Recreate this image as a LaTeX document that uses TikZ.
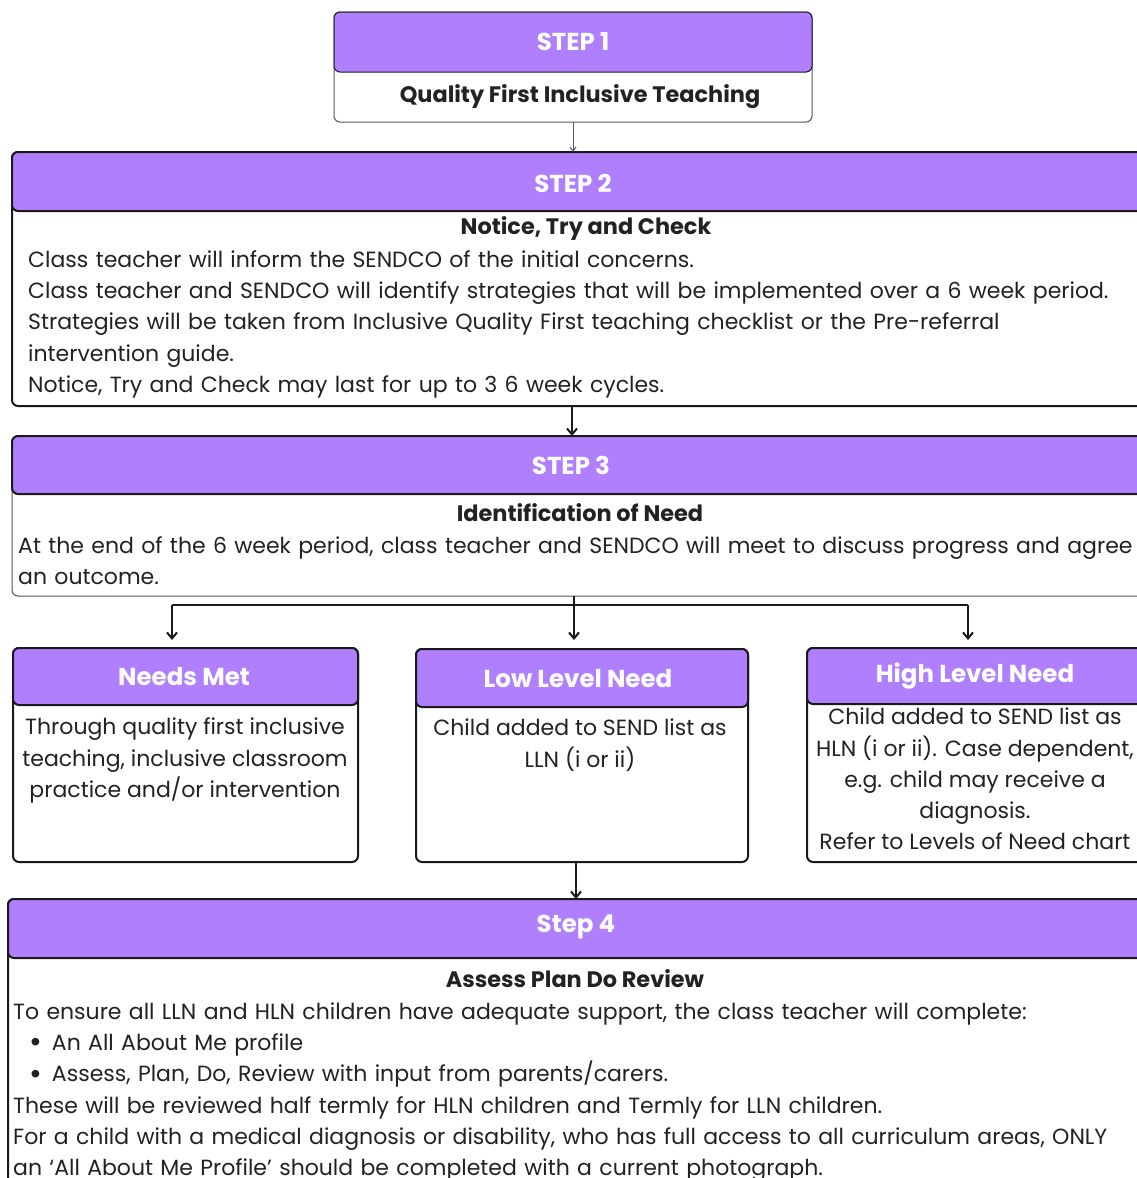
\documentclass[tikz,border=0pt]{standalone}
\usepackage{fontspec}
\setmainfont{Poppins}
\usetikzlibrary{arrows.meta}
\definecolor{purp}{HTML}{B07FFE}
\definecolor{ink}{HTML}{222222}
\definecolor{edge}{HTML}{1A1A1A}
\definecolor{thin}{HTML}{555555}
\newcommand{\bigbul}{\hspace*{16pt}\raisebox{-2.5pt}{\fontsize{31}{31}\selectfont\textbullet}\hspace{10pt}}
\begin{document}
\begin{tikzpicture}[x=1pt,y=-1pt,
  frame/.style={draw=edge, line width=2pt, fill=white, rounded corners=6pt, inner sep=0pt, outer sep=0pt, anchor=north west},
  hdr/.style={draw=edge, line width=2pt, fill=purp, rounded corners=6pt, inner sep=0pt, outer sep=0pt, anchor=north west},
  ttl/.style={text=white, inner sep=0pt, font=\fontsize{24.5}{28}\selectfont\bfseries},
  subttl/.style={text=ink, inner sep=0pt, font=\fontsize{22.4}{27}\selectfont\bfseries},
  bodyl/.style={text=ink, inner sep=0pt, anchor=north west, align=left, text width=1120pt, font=\fontsize{22}{31.3}\selectfont},
  bodyc/.style={text=ink, inner sep=0pt, anchor=north, align=center, font=\fontsize{22}{31.1}\selectfont},
  arr/.style={draw=edge, line width=2pt, -{Straight Barb[length=6pt,width=10pt,line width=2pt]}},
  thinarr/.style={draw=thin, line width=1pt, -{Straight Barb[length=4pt,width=6pt]}}
]
\useasboundingbox (0,0) rectangle (1137,1178);
\clip (0,0) rectangle (1137,1178);
\fill[white] (0,0) rectangle (1137,1178);

% STEP 1
\node[frame, draw=thin, line width=1pt, minimum width=478pt, minimum height=110pt] (s1) at (334,12) {};
\node[hdr, line width=1pt, minimum width=478pt, minimum height=60pt] (s1h) at (334,12) {};
\node[ttl] (s1t) at (573,42) {STEP 1};
\node[subttl] (s1b) at (580,97) {Quality First Inclusive Teaching};

% STEP 2
\node[frame, minimum width=1140pt, minimum height=254pt] (s2) at (12,152) {};
\node[hdr, minimum width=1140pt, minimum height=59pt] (s2h) at (12,152) {};
\node[ttl] (s2t) at (573,183) {STEP 2};
\node[subttl] (s2a) at (586,228) {Notice, Try and Check};
\node[bodyl] (s2c) at (28,245) {\strut Class teacher will inform the SENDCO of the initial concerns.\\
Class teacher and SENDCO will identify strategies that will be implemented over a 6 week period.\\
Strategies will be taken from Inclusive Quality First teaching checklist or the Pre-referral\\
intervention guide.\\
Notice, Try and Check may last for up to 3 6 week cycles.};

% STEP 3
\node[frame, draw=thin, line width=1pt, minimum width=1140pt, minimum height=160pt] (s3) at (12,436) {};
\node[hdr, minimum width=1140pt, minimum height=58pt] (s3h) at (12,436) {};
\node[ttl] (s3t) at (571,465) {STEP 3};
\node[subttl] (s3a) at (580,513) {Identification of Need};
\node[bodyl] (s3c) at (18,531) {\strut At the end of the 6 week period, class teacher and SENDCO will meet to discuss progress and agree\\
an outcome.};

% Outcome boxes
\node[frame, minimum width=345pt, minimum height=214pt] (nm) at (13,648) {};
\node[hdr, minimum width=345pt, minimum height=57pt] (nmh) at (13,648) {};
\node[ttl] (nmt) at (184,677) {Needs Met};
\node[bodyc] (nmc) at (185,713) {\strut Through quality first inclusive\\teaching, inclusive classroom\\practice and/or intervention};

\node[frame, minimum width=332pt, minimum height=213pt] (ll) at (416,649) {};
\node[hdr, minimum width=332pt, minimum height=58pt] (llh) at (416,649) {};
\node[ttl] (llt) at (578,679) {Low Level Need};
\node[bodyc] (llc) at (580,714) {\strut Child added to SEND list as\\LLN (i or ii)};

\node[frame, minimum width=345pt, minimum height=214pt] (hl) at (807,648) {};
\node[hdr, minimum width=345pt, minimum height=56pt] (hlh) at (807,648) {};
\node[ttl] (hlt) at (975,676) {High Level Need};
\node[bodyc] (hlc) at (975,703) {\strut Child added to SEND list as\\HLN (i or ii). Case dependent,\\e.g. child may receive a\\diagnosis.\\Refer to Levels of Need chart};

% STEP 4
\node[frame, minimum width=1140pt, minimum height=320pt] (s4) at (8,899) {};
\node[hdr, minimum width=1140pt, minimum height=59pt] (s4h) at (8,899) {};
\node[ttl] (s4t) at (576,927) {Step 4};
\node[subttl] (s4a) at (575,979) {Assess Plan Do Review};
\node[bodyl] (s4c) at (13,997) {\strut To ensure all LLN and HLN children have adequate support, the class teacher will complete:\\
\bigbul An All About Me profile\\
\bigbul Assess, Plan, Do, Review with input from parents/carers.\\
These will be reviewed half termly for HLN children and Termly for LLN children.\\
For a child with a medical diagnosis or disability, who has full access to all curriculum areas, ONLY\\
an ‘All About Me Profile’ should be completed with a current photograph.};

% connectors
\coordinate (x2) at (572,0);
\coordinate (br) at (574,605);
\coordinate (bl) at (172,605);
\coordinate (bh) at (968,605);
\coordinate (x4) at (576,0);
\draw[thinarr] (s1.south) -- (s1.south |- s2.north);
\draw[arr] (s2.south -| x2) -- (s3.north -| x2);
\draw[draw=edge, line width=2pt] (s3.south -| br) -- (br);
\draw[draw=edge, line width=2pt] (bl) -- (bh);
\draw[arr, shorten >=8pt] (bl) -- (nm.north -| bl);
\draw[arr, shorten >=9pt] (br) -- (ll.north -| br);
\draw[arr, shorten >=8pt] (bh) -- (hl.north -| bh);
\draw[arr] (ll.south -| x4) -- (s4.north -| x4);
\end{tikzpicture}
\end{document}
